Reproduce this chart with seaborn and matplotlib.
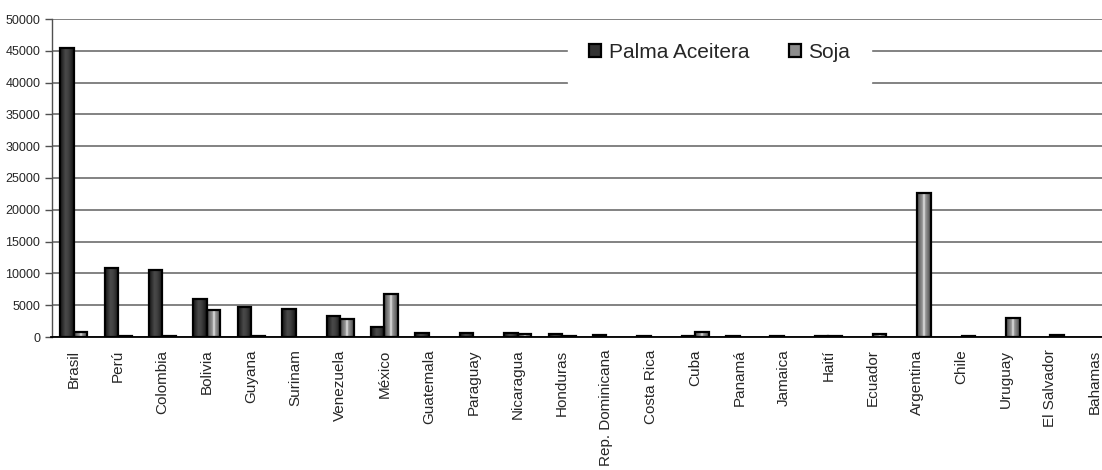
import numpy as np
import pandas as pd
import matplotlib
matplotlib.use("Agg")
import matplotlib.pyplot as plt
from matplotlib.colors import LinearSegmentedColormap
import seaborn as sns

countries = ["Brasil", "Perú", "Colombia", "Bolivia", "Guyana", "Surinam", "Venezuela",
             "México", "Guatemala", "Paraguay", "Nicaragua", "Honduras", "Rep. Dominicana",
             "Costa Rica", "Cuba", "Panamá", "Jamaica", "Haití", "Ecuador", "Argentina",
             "Chile", "Uruguay", "El Salvador", "Bahamas"]
palma = [45500, 10900, 10500, 6000, 4700, 4400, 3300, 1500, 700, 700, 700, 400, 300,
         200, 200, 150, 100, 100, 0, 0, 0, 0, 0, 0]
soja = [800, 100, 100, 4200, 150, 0, 2900, 6700, 0, 0, 500, 150, 0,
        0, 800, 0, 0, 100, 500, 22700, 200, 3050, 250, 0]
series = ["Palma Aceitera", "Soja"]
yticks = list(range(0, 50001, 5000))

df = pd.DataFrame({
    "pais": countries * 2,
    "serie": [series[0]] * len(countries) + [series[1]] * len(countries),
    "valor": palma + soja,
})

sns.set_style("white")
plt.rcParams["font.family"] = ["Liberation Sans", "DejaVu Sans"]

W, H = 1102, 470
fig = plt.figure(figsize=(W / 100, H / 100), dpi=100)
ax = fig.add_axes([51.5 / W, 133 / H, 1065.5 / W, 318 / H])

sns.barplot(data=df, x="pais", y="valor", hue="serie", hue_order=series,
            palette={series[0]: "#333333", series[1]: "#8c8c8c"},
            width=0.61, edgecolor="black", linewidth=1.6, ax=ax, saturation=1)

ax.set_xlim(-0.5, len(countries) - 0.5)
ax.set_ylim(0, 50000)
ax.set_yticks(yticks)
ax.set_yticklabels([str(v) for v in yticks], fontsize=9)
ax.set_xlabel("")
ax.set_ylabel("")
ax.tick_params(axis="x", length=0, pad=9, labelsize=11, labelrotation=90)
ax.tick_params(axis="y", length=5, width=1, color="#505050", pad=3, left=True)
ax.yaxis.grid(True, color="#606060", linewidth=1.1)
ax.set_axisbelow(True)
for s in ["top", "right"]:
    ax.spines[s].set_visible(False)
ax.spines["left"].set_color("#505050")
ax.spines["left"].set_linewidth(1.0)
ax.spines["bottom"].set_color("black")
ax.spines["bottom"].set_linewidth(1.3)
for lab in ax.get_xticklabels():
    lab.set_va("top")

# legend
handles, labels = ax.get_legend_handles_labels()
leg = ax.legend(handles, labels, loc="center", bbox_to_anchor=(0.627, 0.895),
                ncol=2, fontsize=15, frameon=True, facecolor="white", edgecolor="white",
                framealpha=1, fancybox=False, borderpad=1.0, borderaxespad=0,
                handlelength=0.6, handleheight=0.6, handletextpad=0.35,
                columnspacing=1.9)

# gradient shading for bars
cm_palma = LinearSegmentedColormap.from_list(
    "p", [(0, "#151515"), (0.4, "#4a4a4a"), (0.6, "#404040"), (1, "#151515")])
cm_soja = LinearSegmentedColormap.from_list(
    "s", [(0, "#4a4a4a"), (0.4, "#9a9a9a"), (0.5, "#f0f0f0"), (0.6, "#9a9a9a"), (1, "#4a4a4a")])
grad = np.linspace(0, 1, 64)[np.newaxis, :]
for cont, cm in zip(ax.containers, [cm_palma, cm_soja]):
    for p in cont.patches:
        h = p.get_height()
        if h <= 0:
            p.set_visible(False)
            continue
        x0 = p.get_x()
        w = p.get_width()
        im = ax.imshow(grad, extent=[x0, x0 + w, 0, h], aspect="auto", cmap=cm,
                       zorder=p.get_zorder() - 0.05, interpolation="bilinear")
        im.set_clip_path(p)
        p.set_facecolor("none")
        p.set_zorder(p.get_zorder() + 0.1)

ax.set_xlim(-0.5, len(countries) - 0.5)
ax.set_ylim(0, 50000)
ax.set_aspect("auto")

fig.savefig("out.png", dpi=100)
